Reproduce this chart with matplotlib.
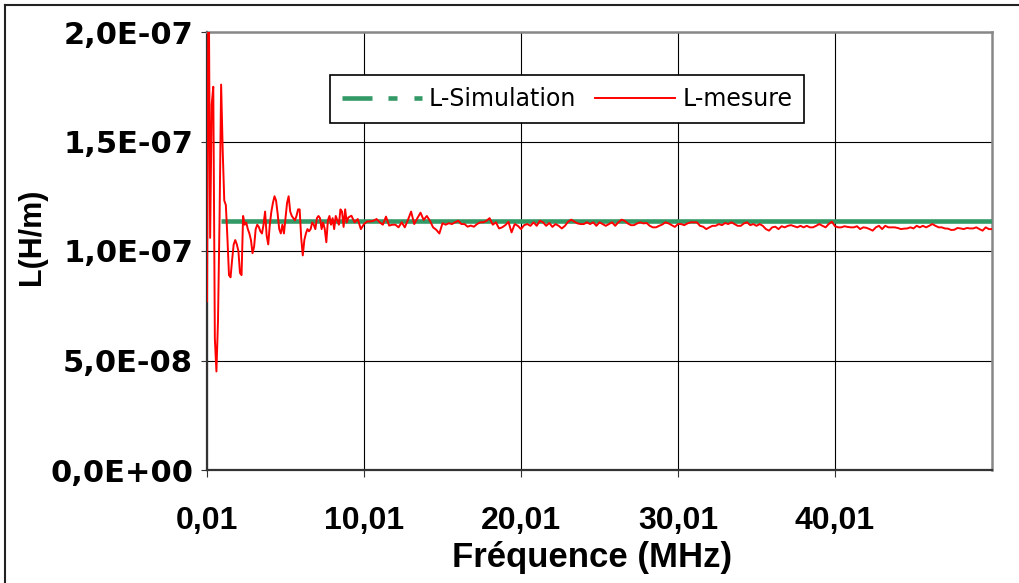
import numpy as np
import matplotlib
matplotlib.use('Agg')
import matplotlib.pyplot as plt
from matplotlib.lines import Line2D

plt.rcParams['lines.scale_dashes'] = False

# measured inductance, in units of 1e-7 H/m
# fine sweep 0.01 -> 8.91 MHz (step 0.1)
freq_fine = np.linspace(0.01, 8.91, 90)
L_fine = [
    0.77, 2.40, 1.06, 1.67, 1.75, 0.60, 0.45, 0.68, 1.15, 1.76,
    1.46, 1.23, 1.21, 1.06, 0.89, 0.88, 0.96, 1.03, 1.05, 1.03,
    1.00, 0.90, 0.89, 1.16, 1.12, 1.13, 1.10, 1.08, 1.05, 0.99,
    1.02, 1.10, 1.12, 1.11, 1.09, 1.08, 1.12, 1.18, 1.07, 1.03,
    1.12, 1.18, 1.22, 1.25, 1.23, 1.17, 1.10, 1.08, 1.12, 1.08,
    1.15, 1.22, 1.25, 1.18, 1.16, 1.15, 1.14, 1.16, 1.19, 1.19,
    1.06, 0.98, 1.05, 1.08, 1.10, 1.09, 1.10, 1.13, 1.12, 1.10,
    1.15, 1.16, 1.15, 1.10, 1.13, 1.10, 1.04, 1.14, 1.16, 1.12,
    1.15, 1.10, 1.16, 1.14, 1.12, 1.19, 1.18, 1.11, 1.19, 1.13,
]
# coarse sweep 9.01 -> 50.01 MHz (step 0.2)
freq_coarse = np.linspace(9.01, 50.01, 206)
L_coarse = [
    1.153, 1.161, 1.131, 1.146, 1.100, 1.123, 1.135, 1.135, 1.138, 1.146,
    1.131, 1.120, 1.157, 1.116, 1.120, 1.120, 1.108, 1.131, 1.108, 1.142,
    1.180, 1.123, 1.150, 1.175, 1.142, 1.160, 1.138, 1.108, 1.097, 1.080,
    1.127, 1.120, 1.127, 1.123, 1.131, 1.138, 1.123, 1.123, 1.111, 1.116,
    1.111, 1.123, 1.131, 1.131, 1.138, 1.150, 1.120, 1.131, 1.103, 1.108,
    1.118, 1.133, 1.085, 1.123, 1.115, 1.100, 1.118, 1.123, 1.115, 1.131,
    1.115, 1.138, 1.131, 1.115, 1.128, 1.110, 1.123, 1.115, 1.103, 1.115,
    1.134, 1.143, 1.134, 1.126, 1.123, 1.123, 1.131, 1.123, 1.131, 1.115,
    1.131, 1.123, 1.115, 1.123, 1.131, 1.115, 1.131, 1.143, 1.138, 1.126,
    1.118, 1.118, 1.126, 1.131, 1.126, 1.128, 1.115, 1.108, 1.108, 1.115,
    1.121, 1.131, 1.126, 1.118, 1.110, 1.123, 1.123, 1.118, 1.126, 1.131,
    1.131, 1.131, 1.115, 1.111, 1.100, 1.108, 1.115, 1.115, 1.123, 1.118,
    1.128, 1.123, 1.131, 1.123, 1.115, 1.115, 1.126, 1.131, 1.118, 1.123,
    1.115, 1.123, 1.115, 1.100, 1.093, 1.108, 1.111, 1.100, 1.113, 1.108,
    1.115, 1.118, 1.113, 1.108, 1.115, 1.108, 1.115, 1.108, 1.108, 1.115,
    1.123, 1.115, 1.108, 1.123, 1.134, 1.113, 1.108, 1.108, 1.113, 1.110,
    1.108, 1.108, 1.113, 1.100, 1.108, 1.106, 1.100, 1.093, 1.108, 1.115,
    1.100, 1.115, 1.108, 1.108, 1.108, 1.105, 1.100, 1.102, 1.103, 1.108,
    1.103, 1.115, 1.108, 1.115, 1.108, 1.115, 1.123, 1.115, 1.108, 1.108,
    1.103, 1.102, 1.096, 1.097, 1.105, 1.103, 1.100, 1.105, 1.103, 1.103,
    1.108, 1.100, 1.093, 1.108, 1.100, 1.100,
]

# simulated inductance (flat)
freq_sim = [0.91, 50.01]
L_sim = [1.135, 1.135]

x_ticks = [0.01, 10.01, 20.01, 30.01, 40.01]
x_tick_labels = ['0,01', '10,01', '20,01', '30,01', '40,01']
y_ticks = [0, 5e-8, 1e-7, 1.5e-7, 2e-7]
y_tick_labels = ['0,0E+00', '5,0E-08', '1,0E-07', '1,5E-07', '2,0E-07']

freq = np.concatenate([freq_fine, freq_coarse])
L_mes = np.concatenate([L_fine, L_coarse]) * 1e-7
L_sim = np.array(L_sim) * 1e-7

W, H = 1019, 583
fig = plt.figure(figsize=(W / 100, H / 100), dpi=100)
ax = fig.add_axes([207 / W, 1 - 470 / H, 785 / W, 438 / H])

green = '#339966'
ax.plot(freq_sim, L_sim, color=green, lw=3.3, solid_capstyle='butt', zorder=3)
ax.plot(freq, L_mes, color='red', lw=1.4, zorder=4)

ax.set_xlim(0.01, 50.01)
ax.set_ylim(0, 2e-7)
ax.set_xticks(x_ticks)
ax.set_xticklabels(x_tick_labels, fontfamily='Liberation Sans', fontweight='bold', fontsize=23)
ax.set_yticks(y_ticks)
ax.set_yticklabels(y_tick_labels, fontfamily='DejaVu Sans', fontweight='bold', fontsize=22)
ax.grid(True, color='black', lw=0.8, zorder=1)
ax.set_axisbelow(True)
ax.tick_params(axis='x', length=5, width=0.8, pad=21, color='#333333')
ax.tick_params(axis='y', length=4.5, width=0.8, pad=5.5, color='#333333')

for side in ['left', 'bottom']:
    ax.spines[side].set_color('#333333')
    ax.spines[side].set_linewidth(1.6)
for side in ['top', 'right']:
    ax.spines[side].set_color('#888888')
    ax.spines[side].set_linewidth(1.8)

ax.set_xlabel('Fréquence (MHz)', fontfamily='Liberation Sans', fontweight='bold', fontsize=25, va='center')
ax.xaxis.set_label_coords((592 - 207) / 785, (470 - 557) / 438)
ax.set_ylabel('L(H/m)', fontfamily='Liberation Sans', fontweight='bold', fontsize=22, va='center')
ax.yaxis.set_label_coords((32 - 207) / 785, (470 - 237) / 438)

sim_handle = Line2D([], [], color=green, lw=3.3, dashes=(21.6, 11.5, 6.5, 12.2, 6.5, 12.2))
mes_handle = Line2D([], [], color='red', lw=1.4)
leg = ax.legend([sim_handle, mes_handle], ['L-Simulation', 'L-mesure'],
                loc='center', bbox_to_anchor=((567 - 207) / 785, 1 - (99 - 32) / 438),
                ncol=2, prop={'family': 'DejaVu Sans', 'size': 17},
                handlelength=3.4, handletextpad=0.3, columnspacing=0.8,
                borderpad=0.5, borderaxespad=0, fancybox=False, framealpha=1,
                edgecolor='black')
leg.get_frame().set_linewidth(1.2)
leg.set_zorder(6)

# outer chart frame (only top and left edges fall inside the image)
fig.add_artist(Line2D([5 / W, 1.0], [1 - 5 / H, 1 - 5 / H], transform=fig.transFigure, color='#222222', lw=1.5))
fig.add_artist(Line2D([5 / W, 5 / W], [0.0, 1 - 5 / H], transform=fig.transFigure, color='#222222', lw=1.5))

fig.savefig('out.png', dpi=100)
